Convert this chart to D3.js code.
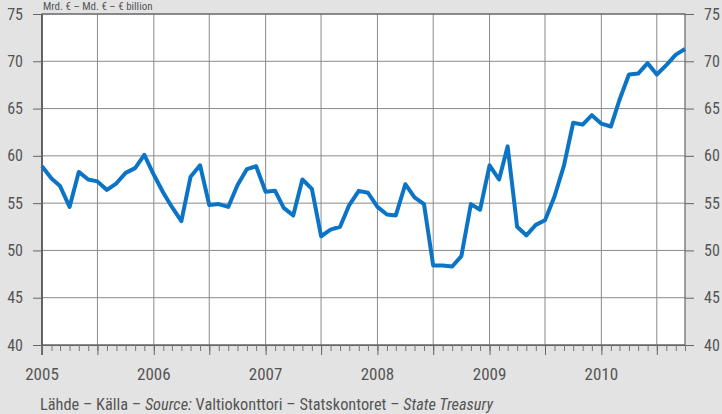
<!DOCTYPE html>
<html>
<head>
<meta charset="utf-8">
<script src="https://cdn.jsdelivr.net/npm/d3@7"></script>
<style>
  html, body { margin: 0; padding: 0; background: #e3e3e3; }
  svg { display: block; }
  text { font-family: "Liberation Sans Narrow", "Roboto Condensed", "DejaVu Sans Condensed", "Liberation Sans", sans-serif; fill: #555; }
</style>
</head>
<body>
<svg id="chart" width="722" height="414"></svg>
<script>
// Monthly values, Jan 2005 – Oct 2010 (€ billion)
const startMonth = "2005-01";
const values = [
  58.9, 57.6, 56.8, 54.6, 58.3, 57.5, 57.3, 56.4, 57.1, 58.2, 58.7, 60.1,
  58.0, 56.1, 54.6, 53.1, 57.8, 59.0, 54.8, 54.9, 54.6, 56.9, 58.6, 58.9,
  56.2, 56.3, 54.5, 53.7, 57.5, 56.5, 51.5, 52.2, 52.5, 54.8, 56.3, 56.1,
  54.6, 53.8, 53.7, 57.0, 55.6, 54.9, 48.4, 48.4, 48.3, 49.4, 54.9, 54.3,
  59.0, 57.5, 61.0, 52.5, 51.6, 52.7, 53.2, 55.7, 59.0, 63.5, 63.3, 64.3,
  63.4, 63.1, 65.9, 68.6, 68.7, 69.8, 68.6, 69.6, 70.7, 71.3
];
const yTicks = [40, 45, 50, 55, 60, 65, 70, 75];
const yearLabels = ["2005", "2006", "2007", "2008", "2009", "2010"];
const unitLabel = "Mrd. € – Md. € – € billion";
const sourceParts = [
  {t: "Lähde – Källa – ", italic: false},
  {t: "Source:", italic: true},
  {t: " Valtiokonttori – Statskontoret – ", italic: false},
  {t: "State Treasury", italic: true}
];

const parse = d3.timeParse("%Y-%m");
const t0 = parse(startMonth);
const data = values.map((v, i) => ({date: d3.timeMonth.offset(t0, i), v}));

const svg = d3.select("#chart");
const L = 42, R = 685, T = 14, B = 345;

const x = d3.scaleTime()
  .domain([t0, d3.timeMonth.offset(t0, values.length - 1)])
  .range([L, R]);
const y = d3.scaleLinear().domain([40, 75]).range([B, T]);

// plot background
svg.append("rect").attr("x", L).attr("y", T).attr("width", R - L).attr("height", B - T)
  .attr("fill", "#fff");

// horizontal grid
svg.append("g").selectAll("line").data(yTicks).join("line")
  .attr("x1", L).attr("x2", R)
  .attr("y1", d => y(d)).attr("y2", d => y(d))
  .attr("stroke", "#8a8a8a").attr("stroke-width", 1);

// vertical grid (every half year)
const halfYears = d3.timeMonth.every(6).range(t0, d3.timeMonth.offset(t0, values.length));
svg.append("g").selectAll("line").data(halfYears.filter(d => +d > +t0)).join("line")
  .attr("x1", d => x(d)).attr("x2", d => x(d))
  .attr("y1", T).attr("y2", B)
  .attr("stroke", "#8a8a8a").attr("stroke-width", 1);

// frame
svg.append("rect").attr("x", L).attr("y", T).attr("width", R - L).attr("height", B - T)
  .attr("fill", "none").attr("stroke", "#666").attr("stroke-width", 1.2);
svg.append("line").attr("x1", L).attr("x2", L).attr("y1", T).attr("y2", B + 10)
  .attr("stroke", "#555").attr("stroke-width", 1.6);

// left axis
const yLeft = d3.axisLeft(y).tickValues(yTicks).tickSize(9).tickPadding(10);
const gl = svg.append("g").attr("transform", `translate(${L},0)`).call(yLeft);
gl.select(".domain").remove();
gl.selectAll(".tick line").attr("stroke", "#666");
gl.selectAll(".tick text").attr("font-size", 16).attr("fill", "#555");

// right axis
const yRight = d3.axisRight(y).tickValues(yTicks).tickSize(9).tickPadding(10);
const gr = svg.append("g").attr("transform", `translate(${R},0)`).call(yRight);
gr.select(".domain").remove();
gr.selectAll(".tick line").attr("stroke", "#666");
gr.selectAll(".tick text").attr("font-size", 16).attr("fill", "#555");

// bottom axis: monthly minor ticks
const months = d3.timeMonth.range(t0, d3.timeMonth.offset(t0, values.length));
const xMinor = d3.axisBottom(x).tickValues(months).tickSize(6).tickFormat("");
const gm = svg.append("g").attr("transform", `translate(0,${B})`).call(xMinor);
gm.select(".domain").attr("stroke", "#666").attr("d", `M${L - 9},0.5H${R + 9}`);
gm.selectAll(".tick line").attr("stroke", "#777");

// bottom axis: half-year major ticks
const xMajor = d3.axisBottom(x).tickValues(halfYears).tickSize(10).tickFormat("");
const gM = svg.append("g").attr("transform", `translate(0,${B})`).call(xMajor);
gM.select(".domain").remove();
gM.selectAll(".tick line").attr("stroke", "#666");

// year labels
const years = yearLabels.map(s => d3.timeParse("%Y")(s));
svg.append("g").selectAll("text").data(years).join("text")
  .attr("x", d => x(d)).attr("y", 380)
  .attr("text-anchor", "middle")
  .attr("font-size", 17)
  .attr("fill", "#555")
  .text(d => d3.timeFormat("%Y")(d));

// line
const line = d3.line().x(d => x(d.date)).y(d => y(d.v)).curve(d3.curveLinear);
svg.append("path").datum(data)
  .attr("d", line)
  .attr("fill", "none")
  .attr("stroke", "#0b74c5")
  .attr("stroke-width", 4)
  .attr("stroke-linejoin", "round")
  .attr("stroke-linecap", "butt");

// unit label (in the original it sits at the very top edge)
svg.append("text").attr("x", 43).attr("y", 10).attr("font-size", 11).text(unitLabel);

// source
const src = svg.append("text").attr("x", 40).attr("y", 410).attr("font-size", 17)
  .attr("textLength", 453).attr("lengthAdjust", "spacingAndGlyphs");
src.selectAll("tspan").data(sourceParts).join("tspan")
  .attr("font-style", d => d.italic ? "italic" : "normal")
  .text(d => d.t);
</script>
</body>
</html>
